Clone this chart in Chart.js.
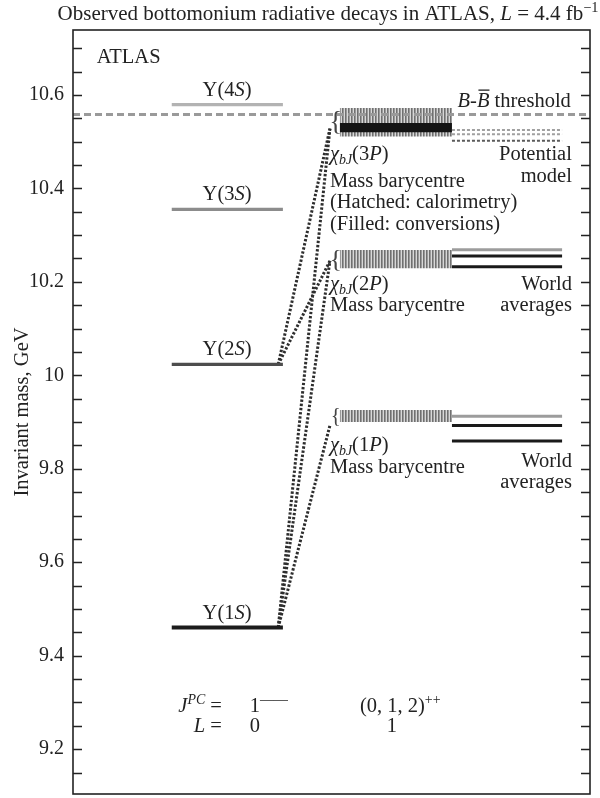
<!DOCTYPE html>
<html>
<head>
<meta charset="utf-8">
<script src="https://cdn.jsdelivr.net/npm/chart.js@4.4.1/dist/chart.umd.min.js"></script>
<style>
  html, body { margin: 0; padding: 0; background: #fff; }
  #wrap { width: 600px; height: 798px; }
</style>
</head>
<body>
<div id="wrap"><canvas id="c" width="600" height="798"></canvas></div>
<script>
// ---- Bottomonium spectrum (GeV) ----
const upsilonNames = ['1S', '2S', '3S', '4S'];
const upsilonMass = [9.4603, 10.0233, 10.3552, 10.5794];

const thresholdMass = 10.558;            // B-Bbar threshold

const chiNames = ['1P', '2P', '3P'];
const chiHatchLow = [9.900, 10.229, 10.511];   // calorimetry band
const chiHatchHigh = [9.926, 10.268, 10.572];
const chi3PConvLow = 10.520;                   // conversions band (3P)
const chi3PConvHigh = 10.540;
const chiBarycentre = [9.893, 10.245, 10.528];

const worldAvg1P = [9.8594, 9.8928, 9.9122];   // J = 0, 1, 2
const worldAvg2P = [10.2325, 10.2555, 10.2686];
const potentialModel3P = [10.502, 10.516, 10.525];

const transitions = [['1S', '1P'], ['1S', '2P'], ['1S', '3P'], ['2S', '2P'], ['2S', '3P']];

const yTickValues = [9.15, 9.2, 9.25, 9.3, 9.35, 9.4, 9.45, 9.5, 9.55, 9.6, 9.65, 9.7, 9.75,
  9.8, 9.85, 9.9, 9.95, 10, 10.05, 10.1, 10.15, 10.2, 10.25, 10.3, 10.35, 10.4, 10.45,
  10.5, 10.55, 10.6, 10.65, 10.7];
const yTickLabels = [9.2, 9.4, 9.6, 9.8, 10, 10.2, 10.4, 10.6];

// ---- layout / style ----
const SERIF = '"Liberation Serif", "Times New Roman", Times, serif';
const INK = '#222';
const COL = { sL: 0.191, sR: 0.406, tr0: 0.397, tr1: 0.497, hL: 0.516, hR: 0.733, rL: 0.733, rR: 0.946 };
const upsilonColor = ['#1c1c1c', '#4d4d4d', '#8c8c8c', '#b3b3b3'];
const worldColor = ['#1a1a1a', '#1a1a1a', '#9c9c9c'];

const ctxMain = document.getElementById('c').getContext('2d');
function stripes() {
  const c = document.createElement('canvas');
  c.width = 3; c.height = 4;
  const g = c.getContext('2d');
  g.fillStyle = '#d8d8d8'; g.fillRect(0, 0, 3, 4);
  g.fillStyle = '#707070'; g.fillRect(0, 0, 1.6, 4);
  return ctxMain.createPattern(c, 'repeat');
}
const hatch = stripes();

function hline(x0, x1, y, extra, order) {
  return Object.assign({ data: [{ x: x0, y: y }, { x: x1, y: y }], pointRadius: 0, borderWidth: 3,
    fill: false, tension: 0, order: order }, extra);
}

const datasets = [];
upsilonMass.forEach((m, i) => datasets.push(hline(COL.sL, COL.sR, m,
  { borderColor: upsilonColor[i], borderWidth: i === 0 ? 4 : 3.2 }, 3)));

datasets.push(hline(0, 1, thresholdMass, { borderColor: '#9a9a9a', borderWidth: 3, borderDash: [7, 4] }, 0));

transitions.forEach(([a, b]) => {
  const y0 = upsilonMass[upsilonNames.indexOf(a)];
  const y1 = chiBarycentre[chiNames.indexOf(b)];
  datasets.push({ data: [{ x: COL.tr0, y: y0 }, { x: COL.tr1, y: y1 }], pointRadius: 0, borderWidth: 3,
    borderColor: '#2e2e2e', borderDash: [2.4, 1.8], fill: false, order: 4 });
});

chiNames.forEach((n, i) => datasets.push(hline(COL.hL, COL.hR, chiHatchHigh[i],
  { borderWidth: 0, borderColor: 'rgba(0,0,0,0)', backgroundColor: hatch, fill: { value: chiHatchLow[i] } }, 6)));

datasets.push(hline(COL.hL, COL.hR, chi3PConvHigh,
  { borderWidth: 0, borderColor: 'rgba(0,0,0,0)', backgroundColor: '#141414', fill: { value: chi3PConvLow } }, 5));

worldAvg1P.forEach((m, j) => datasets.push(hline(COL.rL, COL.rR, m, { borderColor: worldColor[j], borderWidth: 3 }, 2)));
worldAvg2P.forEach((m, j) => datasets.push(hline(COL.rL, COL.rR, m, { borderColor: worldColor[j], borderWidth: 3 }, 2)));
potentialModel3P.forEach((m, j) => datasets.push(hline(COL.rL, COL.rR, m,
  { borderColor: j === 0 ? '#5a5a5a' : '#a0a0a0', borderWidth: 2, borderDash: [3, 2] }, 2)));

// ---- rich text helper ----
function drawRich(ctx, runs, x, y, align, size) {
  const parts = runs.map(r => {
    const small = r.sup || r.sub;
    const s = small ? size * 0.68 : size;
    const font = (r.it ? 'italic ' : '') + s + 'px ' + SERIF;
    ctx.font = font;
    return Object.assign({}, r, { font: font, w: ctx.measureText(r.t).width,
      dy: r.sup ? -size * 0.4 : (r.sub ? size * 0.2 : 0) });
  });
  const total = parts.reduce((a, p) => a + p.w, 0);
  let cx = align === 'center' ? x - total / 2 : (align === 'right' ? x - total : x);
  ctx.textAlign = 'left';
  ctx.textBaseline = 'alphabetic';
  parts.forEach(p => {
    ctx.font = p.font;
    ctx.fillText(p.t, cx, y + p.dy);
    if (p.over) ctx.fillRect(cx + 1.5, y - size * 0.86, p.w - 1.5, 1.3);
    cx += p.w;
  });
}

const T = (t) => ({ t: t });
const I = (t) => ({ t: t, it: true });
const chiLabel = (n) => [I('\u03C7'), { t: 'bJ', it: true, sub: true }, T('(' + n[0]), I(n[1]), T(')')];

// text anchored in axis units: [runs, x, y(GeV), align]
const notes = [
  [[T('ATLAS')], 0.046, 10.668, 'left'],
  [[I('B'), T('-'), { t: 'B', it: true, over: true }, T(' threshold')], 0.963, 10.574, 'right'],
  [chiLabel('3P'), 0.497, 10.461, 'left'],
  [[T('Mass barycentre')], 0.497, 10.403, 'left'],
  [[T('(Hatched: calorimetry)')], 0.497, 10.359, 'left'],
  [[T('(Filled: conversions)')], 0.497, 10.312, 'left'],
  [[T('Potential')], 0.965, 10.461, 'right'],
  [[T('model')], 0.965, 10.414, 'right'],
  [chiLabel('2P'), 0.497, 10.183, 'left'],
  [[T('Mass barycentre')], 0.497, 10.138, 'left'],
  [[T('World')], 0.965, 10.183, 'right'],
  [[T('averages')], 0.965, 10.138, 'right'],
  [chiLabel('1P'), 0.497, 9.839, 'left'],
  [[T('Mass barycentre')], 0.497, 9.792, 'left'],
  [[T('World')], 0.965, 9.803, 'right'],
  [[T('averages')], 0.965, 9.758, 'right'],
  [[I('J'), { t: 'PC', it: true, sup: true }, T(' =')], 0.288, 9.279, 'right'],
  [[I('L'), T(' =')], 0.288, 9.236, 'right'],
  [[T('1'), { t: '\u2014\u2014', sup: true }], 0.342, 9.279, 'left'],
  [[T('0')], 0.342, 9.236, 'left'],
  [[T('(0, 1, 2)'), { t: '++', sup: true }], 0.555, 9.279, 'left'],
  [[T('1')], 0.617, 9.236, 'center']
];
const braceSize = [21, 26, 27];

const decorations = {
  id: 'decorations',
  afterDatasetsDraw(chart) {
    const { ctx, scales: { x, y } } = chart;
    ctx.save();
    ctx.fillStyle = INK;
    // level names
    upsilonMass.forEach((m, i) => drawRich(ctx, [T('\u03A5(' + upsilonNames[i][0]), I('S'), T(')')],
      x.getPixelForValue(0.298), y.getPixelForValue(m) - 9, 'center', 20.5));
    // braces in front of the barycentre bands
    ctx.fillStyle = '#444';
    ctx.textAlign = 'center';
    ctx.textBaseline = 'middle';
    chiNames.forEach((n, i) => {
      ctx.font = braceSize[i] + 'px ' + SERIF;
      const mid = (y.getPixelForValue(chiHatchLow[i]) + y.getPixelForValue(chiHatchHigh[i])) / 2;
      ctx.fillText('{', x.getPixelForValue(COL.hL) - 4, mid + 1);
    });
    ctx.fillStyle = INK;
    notes.forEach(([runs, nx, ny, al]) => drawRich(ctx, runs, x.getPixelForValue(nx), y.getPixelForValue(ny), al, 20.5));
    ctx.restore();
  },
  afterDraw(chart) {
    const { ctx, chartArea: a, scales: { y } } = chart;
    ctx.save();
    ctx.strokeStyle = INK;
    ctx.lineWidth = 1.6;
    ctx.strokeRect(a.left, a.top, a.right - a.left, a.bottom - a.top);
    ctx.lineWidth = 1.4;
    ctx.beginPath();
    y.ticks.forEach(t => {
      const py = Math.round(y.getPixelForValue(t.value)) + 0.5;
      ctx.moveTo(a.left, py); ctx.lineTo(a.left + 9, py);
      ctx.moveTo(a.right, py); ctx.lineTo(a.right - 9, py);
    });
    ctx.stroke();
    // title
    ctx.fillStyle = INK;
    drawRich(ctx, [T('Observed bottomonium radiative decays in ATLAS, '), I('L'), T(' = 4.4 fb'), { t: '\u22121', sup: true }],
      328, 20, 'center', 21);
    ctx.restore();
  }
};

new Chart(ctxMain, {
  type: 'line',
  data: { datasets: datasets },
  options: {
    responsive: false,
    animation: false,
    events: [],
    layout: { padding: { top: 30, right: 10, bottom: 4, left: 0 } },
    plugins: { legend: { display: false }, tooltip: { enabled: false }, title: { display: false } },
    scales: {
      x: { type: 'linear', min: 0, max: 1, display: false },
      y: {
        type: 'linear', min: 9.104, max: 10.739,
        afterBuildTicks: s => { s.ticks = yTickValues.map(v => ({ value: v })); },
        afterFit: s => { s.width = 73; s.paddingTop = 0; s.paddingBottom = 0; },
        grid: { display: false, drawTicks: false },
        border: { display: false },
        ticks: {
          autoSkip: false, padding: 9, color: INK, font: { family: SERIF, size: 20 },
          callback: v => yTickLabels.some(l => Math.abs(l - v) < 1e-6) ? (Math.abs(v - 10) < 1e-6 ? '10' : v.toFixed(1)) : ''
        },
        title: { display: true, text: 'Invariant mass, GeV', color: INK, font: { family: SERIF, size: 20.5 }, padding: { top: 10, bottom: 0 } }
      }
    }
  },
  plugins: [decorations]
});
</script>
</body>
</html>
